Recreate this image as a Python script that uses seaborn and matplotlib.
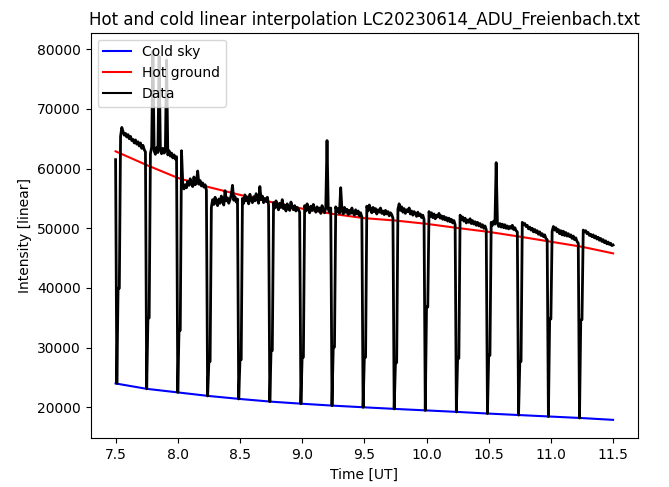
import numpy as np
import pandas as pd
import seaborn as sns
import matplotlib
matplotlib.use('Agg')
import matplotlib.pyplot as plt

# calibration lines (sampled at each sky/ground scan)
calib_time = [7.50, 7.75, 8.00, 8.25, 8.50, 8.75, 9.00, 9.25, 9.50,
              9.75, 10.00, 10.25, 10.50, 10.75, 11.00, 11.25, 11.50]
cold_sky = [24000, 23100, 22500, 21900, 21400, 20950, 20600, 20280, 20000,
            19730, 19480, 19230, 18950, 18700, 18450, 18200, 17900]
hot_ground = [62900, 60600, 58450, 56900, 55600, 54400, 53300, 52400, 51700,
              51300, 50750, 50050, 49400, 48600, 47750, 46900, 45800]

# raw intensity, one sample every 0.01 h starting 7.50 UT
# each scan: cold sky, transition, then ground
start = [61500]
scan1 = [24000, 39900, 39950, 65400, 66900, 66200, 65600, 65900, 65300, 65700, 65000, 65400,
         64700, 64900, 64300, 64800, 64100, 64500, 63800, 64300, 63400, 63900, 63200, 62800]
scan2 = [23100, 34900, 35000, 62500, 63600, 79700, 63000, 62400, 63500, 62700, 78800, 63200,
         62500, 63400, 62600, 62900, 78200, 62300, 63000, 62100, 62600, 61800, 62300, 61600, 62000]
scan3 = [22500, 33000, 32900, 63000, 57500, 56600, 57300, 56800, 57900, 57200, 58300, 57400,
         57000, 58600, 57300, 57800, 59600, 57400, 58000, 57100, 57600, 56900, 57300, 56400]
scan4 = [21900, 27600, 27700, 53500, 54800, 54000, 55200, 54300, 53800, 54900, 54200, 55400,
         54500, 53900, 56300, 54600, 55100, 54200, 54800, 55600, 57200, 54700, 55300, 54400, 54900]
scan5 = [21400, 27900, 28000, 55000, 54200, 55600, 54600, 55200, 54100, 55700, 54800, 54300,
         55300, 54600, 55800, 54900, 54200, 57000, 54800, 55400, 54300, 55000, 54500, 55200, 53900]
scan6 = [20950, 29600, 29500, 54300, 53400, 54600, 53700, 53100, 54200, 53500, 54800, 53300,
         53900, 52900, 54100, 53400, 53000, 54400, 53600, 53100, 53800, 52900, 53500, 53200, 52700]
scan7 = [20600, 28500, 28400, 53800, 52900, 54100, 53300, 52600, 53700, 53000, 54000, 53200,
         52700, 53600, 52900, 53400, 52500, 53800, 53100, 52600, 53500, 64700, 53200, 52700, 53400]
scan8 = [20280, 30200, 30100, 53600, 52800, 53300, 52500, 56800, 53100, 52400, 53500, 52700,
         53200, 52300, 53000, 52500, 53400, 52600, 52200, 53100, 52400, 52900, 52100, 52600, 51900]
scan9 = [20000, 28300, 28400, 53700, 52900, 53900, 53200, 52600, 53500, 52800, 53300, 52400,
         53100, 52700, 53400, 52500, 52900, 52300, 53000, 52400, 52800, 52100, 52600, 52300, 51700]
scan10 = [19730, 27400, 27500, 53200, 54100, 53000, 53600, 52700, 53300, 52500, 53100, 52800,
          53400, 52400, 52900, 52200, 52800, 52500, 52000, 52700, 52100, 52400, 51800, 52200, 51500]
scan11 = [19480, 36900, 36800, 52800, 52000, 52600, 51800, 52400, 51600, 52200, 51900, 52500,
          51700, 52100, 51500, 52000, 51400, 51800, 51200, 51700, 51100, 51500, 50900, 51300, 50600]
scan12 = [19230, 28300, 28200, 52200, 51500, 51900, 51200, 51700, 50900, 51400, 51000, 51600,
          50800, 51300, 50700, 51100, 50500, 51000, 50400, 50800, 50200, 50600, 50000, 50400, 49800]
scan13 = [18950, 28800, 28700, 51000, 50500, 51200, 50700, 61000, 50900, 50300, 50800, 50200,
          50700, 50100, 50600, 50000, 50400, 49900, 50300, 50000, 50500, 49800, 50100, 49600, 49400]
scan14 = [18700, 27600, 27700, 51000, 50600, 50800, 50300, 50500, 49900, 50200, 49700, 50000,
          49400, 49800, 49300, 49600, 49000, 49400, 48800, 49100, 48600, 48900, 48300, 48100]
scan15 = [18450, 34900, 34800, 49500, 50300, 49700, 50100, 49400, 49800, 49100, 49600, 48900,
          49500, 48800, 49300, 48700, 49100, 48600, 48900, 48300, 48700, 48100, 48400, 47800, 47500]
scan16 = [18200, 34600, 34700, 49700, 49400, 49600, 49100, 49300, 48800, 49000, 48600, 48900,
          48400, 48700, 48200, 48500, 48000, 48300, 47800, 48100, 47600, 47900, 47400, 47700,
          47300, 47500, 47100, 47200]

intensity = (start + scan1 + scan2 + scan3 + scan4 + scan5 + scan6 + scan7 + scan8
             + scan9 + scan10 + scan11 + scan12 + scan13 + scan14 + scan15 + scan16)
time = 7.50 + 0.01 * np.arange(len(intensity))

df = pd.DataFrame({'time': time, 'intensity': intensity})
calib = pd.DataFrame({'time': calib_time, 'cold': cold_sky, 'hot': hot_ground})

fig = plt.figure(figsize=(6.69, 4.87), dpi=100)
ax = fig.add_axes([0.1356, 0.100, 0.818, 0.833])

sns.lineplot(data=calib, x='time', y='cold', color='blue', label='Cold sky', ax=ax, estimator=None)
sns.lineplot(data=calib, x='time', y='hot', color='red', label='Hot ground', ax=ax, estimator=None)
sns.lineplot(data=df, x='time', y='intensity', color='black', label='Data', ax=ax,
             estimator=None, linewidth=2.0)

ax.set_title('Hot and cold linear interpolation LC20230614_ADU_Freienbach.txt')
ax.set_xlabel('Time [UT]')
ax.set_ylabel('Intensity [linear]')
leg = ax.legend(loc='upper left')
for h in leg.get_lines():
    h.set_linewidth(1.5)

plt.savefig('out.png', dpi=100)
